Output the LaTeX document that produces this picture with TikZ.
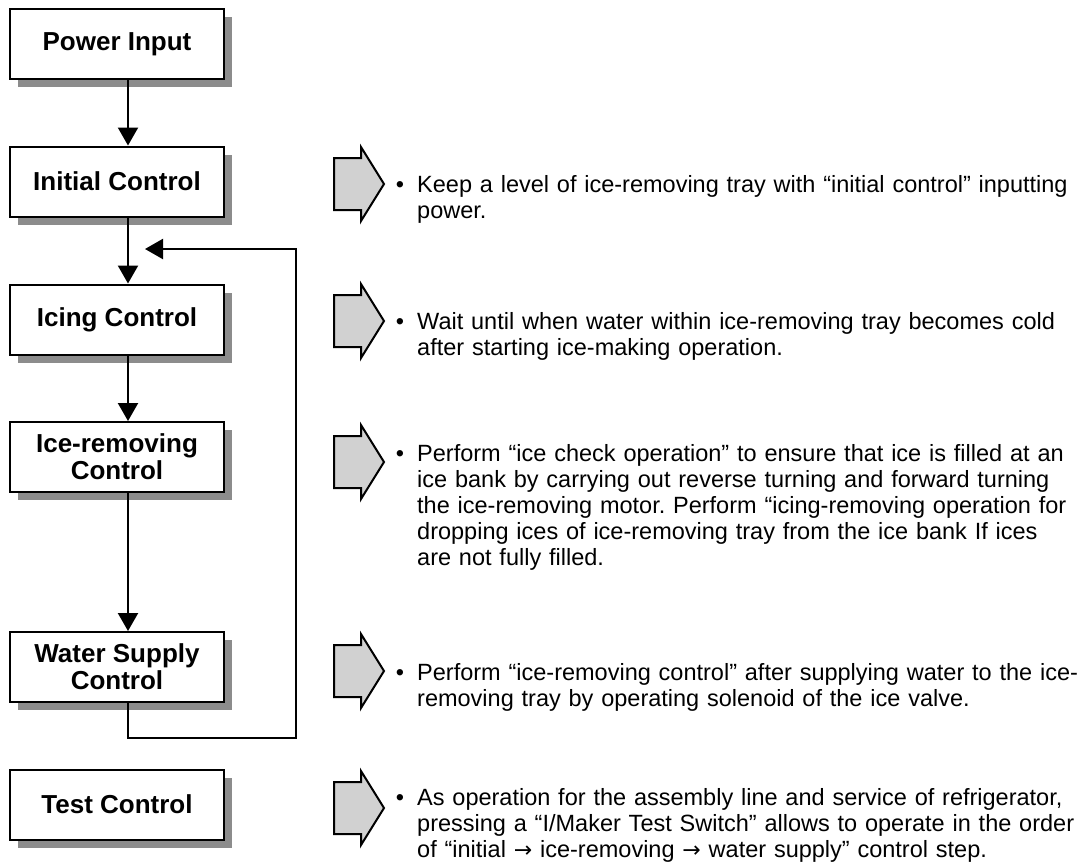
\documentclass[tikz,border=0pt]{standalone}
\usepackage{fontspec}
\setmainfont{Liberation Sans}
\newfontfamily\arrowfont{DejaVu Sans}
\usetikzlibrary{arrows.meta,shadows}
\frenchspacing
\begin{document}
\begin{tikzpicture}[x=1pt,y=-1pt,
  stepbox/.style={draw=black, line width=2pt, fill=white, minimum width=214pt,
    minimum height=70pt, align=center, inner sep=0pt,
    font=\bfseries\fontsize{26}{27}\selectfont,
    drop shadow={shadow xshift=8pt, shadow yshift=-8pt, fill=black!45, opacity=1}},
  flow/.style={line width=2.2pt, -{Triangle[width=20pt,length=18pt]}},
  blockarrow/.style={draw=black, line width=2pt, fill=black!18, line join=miter},
  desc/.style={anchor=base west, text width=680pt, align=left, inner sep=0pt,
    font=\fontsize{23.5}{26}\selectfont}
]
\useasboundingbox (0,0) rectangle (1086,863);

% flow chart boxes
\node[stepbox] (pw)  at (117,44)    {Power Input};
\node[stepbox] (ini) at (117,181.5) {Initial Control};
\node[stepbox] (ic)  at (117,319.5) {Icing Control};
\node[stepbox] (ir)  at (117,457)   {Ice-removing\\Control};
\node[stepbox] (ws)  at (117,667)   {Water Supply\\Control};
\node[stepbox] (tc)  at (117,804.5) {Test Control};

% main flow
\draw[flow] ([xshift=11pt]pw.south)  -- ([xshift=11pt]ini.north);
\draw[flow] ([xshift=11pt]ini.south) -- ([xshift=11pt]ic.north);
\draw[flow] ([xshift=11pt]ic.south)  -- ([xshift=11pt]ir.north);
\draw[flow] ([xshift=11pt]ir.south)  -- ([xshift=11pt]ws.north);

% return loop from water supply back to icing
\coordinate (loopturn) at (296,249);
\coordinate (looptip)  at (145,249);
\draw[flow, line join=miter] ([xshift=11pt]ws.south) -- ++(0,35) -| (loopturn) -- (looptip);

% block arrows pointing to the descriptions
\foreach \cy in {184,321,462,671,808}{
  \draw[blockarrow] (334,\cy-26) -- (361,\cy-26) -- (361,\cy-37) -- (384,\cy)
    -- (361,\cy+37) -- (361,\cy+26) -- (334,\cy+26) -- cycle;
}

% descriptions
\newcommand{\bul}{\llap{\textbullet\hspace{13pt}}}
\newcommand{\ra}{{\arrowfont\fontsize{22}{26}\selectfont →}}
\node[desc] (d1) at (417,192) {\bul Keep a level of ice-removing tray with “initial control” inputting\\power.};
\node[desc] (d2) at (417,329) {\bul Wait until when water within ice-removing tray becomes cold\\after starting ice-making operation.};
\node[desc] (d3) at (417,461) {\bul Perform “ice check operation” to ensure that ice is filled at an\\ice bank by carrying out reverse turning and forward turning\\the ice-removing motor. Perform “icing-removing operation for\\dropping ices of ice-removing tray from the ice bank If ices\\are not fully filled.};
\node[desc] (d4) at (417,680) {\bul Perform “ice-removing control” after supplying water to the ice-\\removing tray by operating solenoid of the ice valve.};
\node[desc] (d5) at (417,805) {\bul As operation for the assembly line and service of refrigerator,\\pressing a “I/Maker Test Switch” allows to operate in the order\\of “initial \ra\ ice-removing \ra\ water supply” control step.};
\end{tikzpicture}
\end{document}
